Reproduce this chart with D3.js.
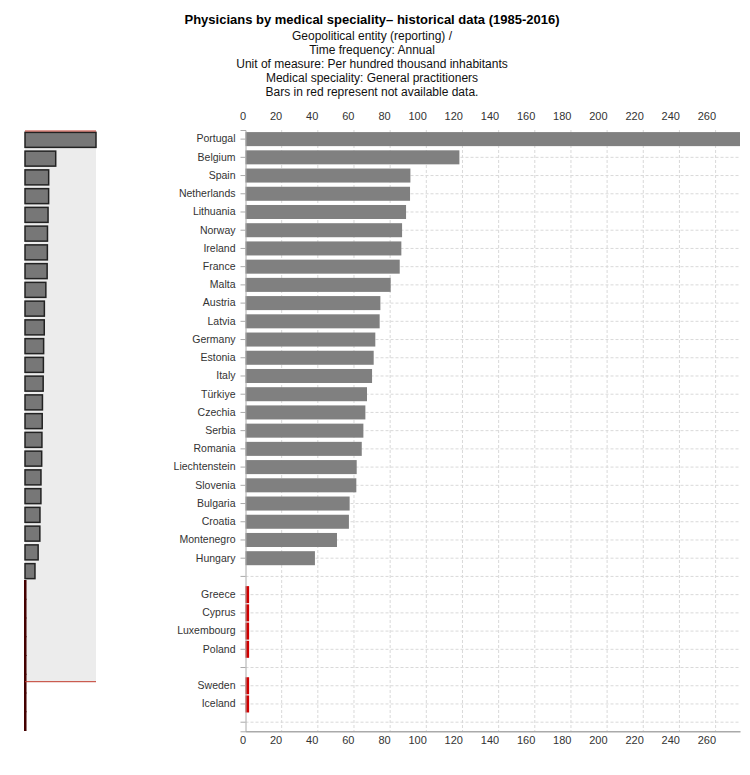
<!DOCTYPE html>
<html><head><meta charset="utf-8">
<script src="https://cdn.jsdelivr.net/npm/d3@7"></script>
<style>
body{margin:0;background:#fff;font-family:"Liberation Sans",Arial,sans-serif;}
</style></head>
<body><svg id="c" width="750" height="775"></svg>
<script>
const titleText = "Physicians by medical speciality\u2013 historical data (1985-2016)";
const subtitleLines = [
  "Geopolitical entity (reporting) /",
  "Time frequency: Annual",
  "Unit of measure: Per hundred thousand inhabitants",
  "Medical speciality: General practitioners",
  "Bars in red represent not available data."
];
const countries = ["Portugal","Belgium","Spain","Netherlands","Lithuania","Norway","Ireland","France","Malta","Austria","Latvia","Germany","Estonia","Italy","Türkiye","Czechia","Serbia","Romania","Liechtenstein","Slovenia","Bulgaria","Croatia","Montenegro","Hungary"];
const values = [273.5,118.3,91.2,91.0,88.8,86.6,86.2,85.3,80.3,74.6,74.2,71.8,70.9,70.0,67.2,66.3,65.2,64.3,61.5,61.3,57.6,57.2,50.6,38.4];
const naCountries = ["Greece","Cyprus","Luxembourg","Poland","","Sweden","Iceland",""];
const naValue = 2;
const xTicks = [0,20,40,60,80,100,120,140,160,180,200,220,240,260];

const svg = d3.select("#c");
const font = '"Liberation Sans",Arial,sans-serif';

// Titles
svg.append("text").attr("x",372).attr("y",24).attr("text-anchor","middle")
  .attr("font-family",font).attr("font-weight","bold").attr("font-size",13).attr("fill","#000").text(titleText);
svg.selectAll("text.sub").data(subtitleLines).join("text").attr("class","sub")
  .attr("x",372).attr("y",(d,i)=>39.5+i*14).attr("text-anchor","middle")
  .attr("font-family",font).attr("font-size",12).attr("fill","#111").text(d=>d);

// Main chart
const mainRows = countries.map((c,i)=>({name:c,value:values[i],na:false}))
  .concat([{name:"",value:null,na:false}])
  .concat(naCountries.map(c=>({name:c,value:naValue,na:true})));
const x = d3.scaleLinear().domain([0, d3.max(values)]).range([245.5, 740]);
const y = d3.scaleBand().domain(d3.range(mainRows.length)).range([130, 731.3]).paddingInner(0.23).paddingOuter(0.115);

const g = svg.append("g");
// vertical grid
g.selectAll("line.vg").data(xTicks.slice(1)).join("line").attr("class","vg")
  .attr("x1",d=>x(d)).attr("x2",d=>x(d)).attr("y1",130).attr("y2",731)
  .attr("stroke","#d9d9d9").attr("stroke-dasharray","3,2");
// horizontal grid
g.selectAll("line.hg").data(mainRows).join("line").attr("class","hg")
  .attr("x1",x(0)).attr("x2",740).attr("y1",(d,i)=>y(i)+y.bandwidth()/2).attr("y2",(d,i)=>y(i)+y.bandwidth()/2)
  .attr("stroke","#d9d9d9").attr("stroke-dasharray","3,2");

// bars
g.selectAll("rect.bar").data(mainRows.filter(d=>!d.na && d.value!=null)).join("rect").attr("class","bar")
  .attr("x",x(0)).attr("y",d=>y(mainRows.indexOf(d)))
  .attr("width",d=>x(d.value)-x(0)).attr("height",y.bandwidth()).attr("fill","#808080");
g.selectAll("rect.na").data(mainRows.filter(d=>d.na && d.name!=="")).join("rect").attr("class","na")
  .attr("x",x(0)).attr("y",d=>y(mainRows.indexOf(d))+y.bandwidth()/2-y.step()/2+0.6)
  .attr("width",d=>x(d.value)-x(0)).attr("height",y.step()-1.2).attr("fill","#d00000");

// y axis
const yAxis = d3.axisLeft(y).tickSize(5).tickPadding(5).tickFormat(i=>mainRows[i].name);
const ya = g.append("g").attr("transform",`translate(${x(0)},0)`).call(yAxis);
ya.select(".domain").attr("stroke","#aaa");
ya.selectAll(".tick line").attr("stroke","#aaa");
ya.selectAll(".tick text").attr("font-family",font).attr("font-size",10.5).attr("fill","#333");

// top & bottom axes
function styleX(sel){
  sel.selectAll(".tick line").remove();
  sel.selectAll(".tick text").attr("text-anchor","end").attr("font-family",font).attr("font-size",11).attr("fill","#333");
}
const xt = g.append("g").attr("transform","translate(0,130)")
  .call(d3.axisTop(x).tickValues(xTicks).tickSize(0).tickPadding(10));
xt.select(".domain").remove(); styleX(xt);
const xb = g.append("g").attr("transform","translate(0,731.3)")
  .call(d3.axisBottom(x).tickValues(xTicks).tickSize(0).tickPadding(5));
xb.select(".domain").attr("stroke","#aaa").attr("stroke-width",1.5); styleX(xb);

// Mini overview
const miniRows = countries.map((c,i)=>({name:c,value:values[i],na:false}))
  .concat(naCountries.map(c=>({name:c,value:naValue,na:true})));
const mx = d3.scaleLinear().domain([0, d3.max(values)]).range([25, 96]);
const my = d3.scaleBand().domain(d3.range(miniRows.length)).range([130.5, 730.5]).paddingInner(0.2).paddingOuter(0.1);
const mg = svg.append("g");
const brushTop = 131, brushBottom = 681.7;
mg.append("rect").attr("x",mx(0)).attr("y",brushTop).attr("width",mx.range()[1]-mx(0)).attr("height",brushBottom-brushTop).attr("fill","#ececec");
mg.selectAll("rect.mb").data(miniRows).join("rect").attr("class","mb")
  .attr("x",mx(0)).attr("y",(d,i)=>d.na? my(i)-my.step()*my.paddingInner()/2+0.5 : my(i))
  .attr("width",d=>mx(d.value)-mx(0))
  .attr("height",d=>d.na? my.step()-1 : my.bandwidth())
  .attr("fill",d=>d.na?"#cc0000":"#777").attr("stroke",d=>d.na?"#400":"#222").attr("stroke-width",d=>d.na?2:1.5);
mg.selectAll("line.bl").data([brushTop, brushBottom]).join("line").attr("class","bl")
  .attr("x1",mx(0)).attr("x2",mx.range()[1]).attr("y1",d=>d).attr("y2",d=>d)
  .attr("stroke","#c0392b").attr("stroke-width",1);
</script>
</body></html>
